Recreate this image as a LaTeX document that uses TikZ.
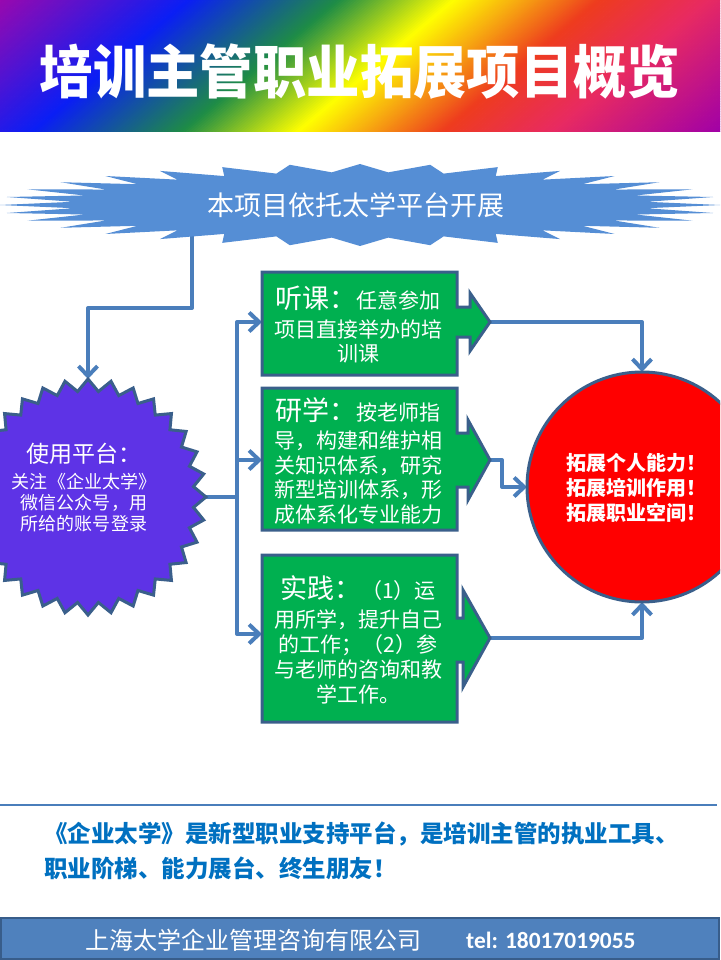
\documentclass[tikz,border=0pt]{standalone}
\usepackage{fontspec}
\usepackage{graphicx}
\setmainfont{Noto Sans CJK SC}
\newfontfamily\titlefont{Noto Sans CJK SC}
\newfontfamily\telfont{Carlito}
\usetikzlibrary{arrows.meta}
\definecolor{g0}{HTML}{9A08AE}
\definecolor{g1}{HTML}{0A1EF5}
\definecolor{g2}{HTML}{1E8C46}
\definecolor{g3}{HTML}{FFFF00}
\definecolor{g4}{HTML}{F7AA10}
\definecolor{g5}{HTML}{EE3C1E}
\definecolor{g6}{HTML}{E82A62}
\definecolor{g7}{HTML}{A000A8}
\definecolor{conn}{HTML}{4A7EBB}
\definecolor{burst}{HTML}{558ED5}
\definecolor{sealfill}{HTML}{5E33E6}
\definecolor{edge}{HTML}{3A5F8B}
\definecolor{boxgreen}{HTML}{00B050}
\definecolor{textblue}{HTML}{0070C0}
\definecolor{footfill}{HTML}{4F81BD}
\definecolor{footedge}{HTML}{385D8A}
\definecolor{goalred}{HTML}{FF0000}
\begin{document}
\begin{tikzpicture}[x=1pt,y=-1pt,
  link/.style={draw=conn, line width=4, line join=round},
  arr/.style={-{Straight Barb[length=10pt,width=19pt]}},
  gbox/.style={fill=boxgreen, draw=edge, line width=3, line join=miter},
  boxtext/.style={text=white, align=center, anchor=base, inner sep=0}]
\useasboundingbox (0,0) rectangle (720,960);
\clip (0,0) rectangle (720,960);
% ---- title band ----
\begin{scope}
\clip (0,0) rectangle (720,132);
\foreach \sa/\sb/\ca/\cb in {0/190/g0/g1,190/340/g1/g2,340/455/g2/g3,455/520/g3/g4,520/600/g4/g5,600/710/g5/g6,710/880/g6/g7}{
  \pgfmathtruncatemacro{\nst}{max(1,round((\sb-\sa)/3))}
  \foreach \i in {1,...,\nst}{
    \pgfmathsetmacro{\xa}{\sa+(\sb-\sa)*(\i-1)/\nst}
    \pgfmathsetmacro{\xb}{\sa+(\sb-\sa)*\i/\nst+1}
    \pgfmathsetmacro{\p}{100*(\i-0.5)/\nst}
    \fill[\cb!\p!\ca] (\xa,-1) -- (\xb,-1) -- (\xb-159,133) -- (\xa-159,133) -- cycle;
  }
}
\end{scope}
\node[text=white, inner sep=0, font=\titlefont\bfseries\fontsize{57.5}{60}\selectfont] (title) at (360,72) {\scalebox{0.928}[1]{培训主管职业拓展项目概览}};
% ---- connectors (drawn under shapes) ----
\coordinate (burstfoot) at (192,236);
\node[circle, minimum size=236, inner sep=0, outer sep=0] (seal) at (88,497) {};
\coordinate (bus) at (237,497);
\coordinate (b1w) at (262,322); \coordinate (b1t) at (490,322);
\coordinate (b2w) at (262,460); \coordinate (b2t) at (490,460);
\coordinate (b3w) at (262,634); \coordinate (b3t) at (490,638);
\node[circle, minimum size=230, inner sep=0, outer sep=0] (goalpos) at (642,487) {};
\draw[link,arr] (burstfoot) -- ++(0,72) -| (seal.north);
\draw[link] (seal.east) -- (bus);
\draw[link,arr] (bus) |- (b1w);
\draw[link,arr] (bus) |- (b3w);
\draw[link,arr] (bus |- b2w) -- (b2w);
\draw[link,arr] (b1t) -| (goalpos.north);
\draw[link,arr] (b3t) -| (goalpos.south);
\draw[link,arr] (b2t) -- ++(12,0) |- (goalpos.west);
% ---- top starburst ----
\fill[burst] plot[samples at={0,...,63}, variable=\k]
  ({360+(1-0.2*mod(\k,2))*360*cos(\k*5.625)}, {205+(1-0.2*mod(\k,2))*41*sin(\k*5.625)}) -- cycle;
\node[text=white, inner sep=0, font=\fontsize{27}{30}\selectfont] (bursttext) at (356,205) {本项目依托太学平台开展};
% ---- left seal ----
\draw[fill=sealfill, draw=edge, line width=3, line join=miter] plot[samples at={0,...,63}, variable=\k]
  ({88+(118-12*mod(\k,2))*cos(\k*5.625)}, {497+(118-12*mod(\k,2))*sin(\k*5.625)}) -- cycle;
\node[boxtext, font=\fontsize{18}{21}\selectfont] (sealtext) at (84,530)
  {{\fontsize{23}{25}\selectfont 使用平台：}\\[5pt]关注《企业太学》\\微信公众号，用\\所给的账号登录};
% ---- green boxes ----
\draw[gbox] (262,272) -- (457,272) -- (457,307) -- (470,307) -- (470,293) -- (490,322) -- (470,351) -- (470,337) -- (457,337) -- (457,375) -- (262,375) -- cycle;
\draw[gbox] (262,388) -- (457,388) -- (457,433) -- (468,433) -- (468,420) -- (490,460) -- (468,500) -- (468,487) -- (457,487) -- (457,530) -- (262,530) -- cycle;
\draw[gbox] (262,555) -- (457,555) -- (457,618) -- (463,618) -- (463,590) -- (490,638) -- (463,687) -- (463,662) -- (457,662) -- (457,722) -- (262,722) -- cycle;
\node[boxtext, font=\fontsize{21}{24}\selectfont] (t1) at (358,361)
  {{\fontsize{27}{29}\selectfont 听课：}任意参加\\[5pt]项目直接举办的培\\训课};
\node[boxtext, font=\fontsize{21}{24.5}\selectfont] (t2) at (358,522)
  {{\fontsize{27}{29}\selectfont 研学：}按老师指\\[3.5pt]导，构建和维护相\\关知识体系，研究\\新型培训体系，形\\成体系化专业能力};
\node[boxtext, font=\fontsize{21}{24.8}\selectfont] (t3) at (358,702)
  {{\fontsize{27}{29}\selectfont 实践：}（1）运\\[4pt]用所学，提升自己\\的工作；（2）参\\与老师的咨询和教\\学工作。};
% ---- goal circle ----
\draw[fill=goalred, draw=edge, line width=3] (goalpos.center) circle[radius=115];
\node[boxtext, font=\bfseries\fontsize{20}{25}\selectfont] (goaltext) at (636,520)
  {拓展个人能力！\\拓展培训作用！\\拓展职业空间！};
% ---- bottom ----
\coordinate (sepl) at (0,805); \coordinate (sepr) at (717,805);
\draw[conn, line width=1.2] (sepl) -- (sepr);
\node[text=textblue, align=left, anchor=base west, inner sep=0, font=\bfseries\fontsize{23.5}{35}\selectfont] (slogan) at (44,877)
  {《企业太学》是新型职业支持平台，是培训主管的执业工具、\\职业阶梯、能力展台、终生朋友！};
\draw[fill=footfill, draw=footedge, line width=2.5] (1,918) rectangle (719,959);
\node[text=white, anchor=base west, inner sep=0, font=\fontsize{24}{26}\selectfont] (company) at (85,949) {上海太学企业管理咨询有限公司};
\node[text=white, anchor=base west, inner sep=0, font=\telfont\bfseries\fontsize{23.4}{26}\selectfont] (tel) at (466,948) {tel: 18017019055};
\end{tikzpicture}
\end{document}
